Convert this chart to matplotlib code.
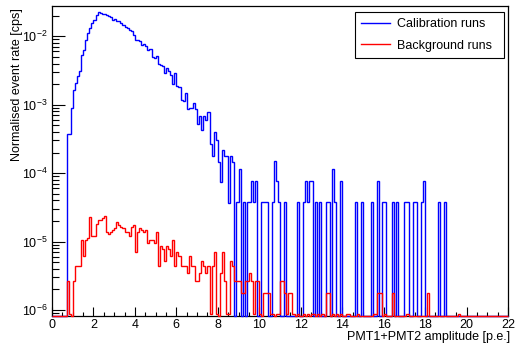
import numpy as np
import matplotlib
matplotlib.use("Agg")
import matplotlib.pyplot as plt
from matplotlib.ticker import MultipleLocator, LogLocator, NullFormatter

plt.rcParams['font.family'] = ['Liberation Sans', 'DejaVu Sans']
plt.rcParams['mathtext.fontset'] = 'custom'
plt.rcParams['mathtext.rm'] = 'Liberation Sans'
plt.rcParams['mathtext.it'] = 'Liberation Sans:italic'

# histogram binning: 0.1 p.e. bins from 0 to 22
bin_width = 0.1
n_bins = 220

# calibration runs, bins 0..87, rate in units of 1e-3 cps
cal_main = [0, 0, 0, 0, 0, 0, 0, 0.37, 0.37, 0.90,
            1.66, 2.1, 2.6, 3.1, 5.3, 6.2, 8.9, 11.2, 13.2, 15.6,
            17.5, 20.7, 22.6, 22.0, 21.5, 21.2, 20.3, 19.5, 19.0, 17.5,
            18.0, 17.0, 16.5, 15.5, 14.8, 13.8, 13.3, 12.4, 11.8, 10.5,
            8.9, 8.8, 8.6, 7.5, 7.7, 7.2, 6.3, 6.5, 5.0, 4.8,
            5.1, 3.9, 3.8, 3.7, 2.9, 3.4, 3.1, 2.7, 2.0, 2.9,
            1.9, 1.8, 1.17, 1.15, 1.46, 0.87, 0.88, 0.89, 1.05, 0.86,
            0.52, 0.68, 0.42, 0.68, 0.60, 0.79, 0.27, 0.18, 0.40, 0.30,
            0.147, 0.075, 0.22, 0.18, 0.18, 0.037, 0.18, 0.147]

# calibration tail, bins 88..219, in counts (one count = cal_unit cps)
cal_unit = 3.82e-5
cal_tail = [0, 1,
            3, 0, 1, 0, 1, 1, 2, 1, 2, 0,
            0, 1, 1, 1, 0, 0, 1, 4, 2, 1,
            0, 0, 1, 0, 0, 0, 0, 0, 1, 0,
            0, 1, 2, 1, 2, 2, 0, 1, 0, 1,
            0, 0, 1, 1, 0, 3, 1, 0, 0, 2,
            0, 0, 0, 0, 0, 0, 1, 0, 0, 1,
            0, 0, 0, 0, 1, 0, 0, 2, 0, 1,
            1, 0, 0, 0, 1, 0, 1, 0, 0, 0,
            1, 1, 0, 0, 1, 1, 0, 0, 1, 2,
            0, 0, 0, 0, 0, 0, 1, 0, 0, 1,
            0, 0, 0, 0, 0, 0, 0, 0, 0, 0,
            0, 0, 0, 0, 0, 0, 0, 0, 0, 0,
            0, 0, 0, 0, 0, 0, 0, 0, 0, 0]

# background runs, bins 0..219, in counts (one count = bkg_unit cps)
bkg_unit = 8.7e-7
bkg_counts = [0, 0, 0, 0, 0, 0, 0, 3, 1, 0,
              3, 5, 5, 5, 12, 7, 12, 13, 26, 14,
              14, 21, 24, 24, 25, 27, 16, 15, 16, 17,
              18, 22, 20, 19, 18, 16, 16, 14, 19, 20,
              8, 16, 18, 17, 16, 17, 11, 12, 12, 11,
              16, 5, 10, 9, 6, 10, 9, 7, 12, 5,
              8, 7, 5, 5, 5, 4, 7, 5, 5, 3,
              3, 4, 6, 5, 4, 5, 1, 5, 8, 1,
              0, 4, 8, 3, 1, 1, 6, 5, 3, 3,
              3, 2, 2, 3, 3, 4, 3, 1, 3, 3,
              1, 0, 2, 2, 2, 1, 1, 0, 1, 1,
              3, 3, 2, 1, 2, 2, 1, 0, 1, 0,
              0, 1, 0, 1, 0, 1, 1, 0, 1, 0,
              1, 0, 2, 2, 0, 1, 0, 1, 0, 1,
              0, 0, 1, 1, 0, 0, 0, 1, 0, 0,
              0, 0, 0, 0, 0, 1, 1, 2, 2, 0,
              1, 0, 0, 0, 2, 0, 0, 0, 0, 0,
              0, 1, 0, 0, 0, 0, 0, 0, 0, 0,
              0, 2, 0, 0, 0, 0, 0, 0, 0, 0,
              0, 0, 0, 0, 0, 0, 1, 0, 0, 0,
              0, 0, 0, 0, 0, 0, 0, 0, 0, 0,
              0, 0, 0, 0, 0, 0, 0, 0, 0, 0]

x_ticks = [0, 2, 4, 6, 8, 10, 12, 14, 16, 18, 20, 22]
y_min, y_max = 8.15e-7, 2.77e-2

edges = np.arange(n_bins + 1) * bin_width
cal = np.concatenate([np.array(cal_main) * 1e-3, np.array(cal_tail) * cal_unit])
bkg = np.array(bkg_counts) * bkg_unit

# empty bins are drawn on the frame bottom, like ROOT does on a log axis
cal_draw = np.where(cal > 0, cal, y_min)
bkg_draw = np.where(bkg > 0, bkg, y_min)

fig = plt.figure(figsize=(5.15, 3.47), dpi=100)
ax = fig.add_axes([0.101, 0.0893, 0.8854, 0.8934])

ax.stairs(cal_draw, edges, baseline=None, color='#0000ff', lw=1.0,
          label='Calibration runs', clip_on=False, zorder=3)
ax.stairs(bkg_draw, edges, baseline=None, color='#ff0000', lw=1.0,
          label='Background runs', clip_on=False, zorder=4)

ax.set_yscale('log')
ax.set_xlim(0, 22)
ax.set_ylim(y_min, y_max)

ax.set_xticks(x_ticks)
ax.xaxis.set_minor_locator(MultipleLocator(0.5))
ax.yaxis.set_major_locator(LogLocator(base=10))
ax.yaxis.set_minor_locator(LogLocator(base=10, subs=np.arange(2, 10)))
ax.yaxis.set_minor_formatter(NullFormatter())

ax.tick_params(axis='both', which='both', direction='in', top=False, right=False,
               labelsize=9, width=0.8)
ax.tick_params(axis='y', which='major', length=9.5, pad=3)
ax.tick_params(axis='y', which='minor', length=5)
ax.tick_params(axis='x', which='major', length=6.5, pad=2.5)
ax.tick_params(axis='x', which='minor', length=3.2)
for sp in ax.spines.values():
    sp.set_linewidth(0.9)

fig.text(510 / 515, 1 - 337 / 347, 'PMT1+PMT2 amplitude [p.e.]',
         ha='right', va='center', fontsize=9)
fig.text(17 / 515, 1 - 8 / 347, 'Normalised event rate [cps]',
         rotation=90, ha='center', va='top', fontsize=9)

leg = ax.legend(loc='upper left', bbox_to_anchor=(0.664, 0.832, 0.327, 0.149),
                mode='expand', borderaxespad=0, fancybox=False, framealpha=1,
                edgecolor='black', fontsize=9, handlelength=2.3,
                handletextpad=0.55, labelspacing=0.75, borderpad=0.5)
leg.get_frame().set_linewidth(0.8)

fig.savefig('out.png', dpi=100)
